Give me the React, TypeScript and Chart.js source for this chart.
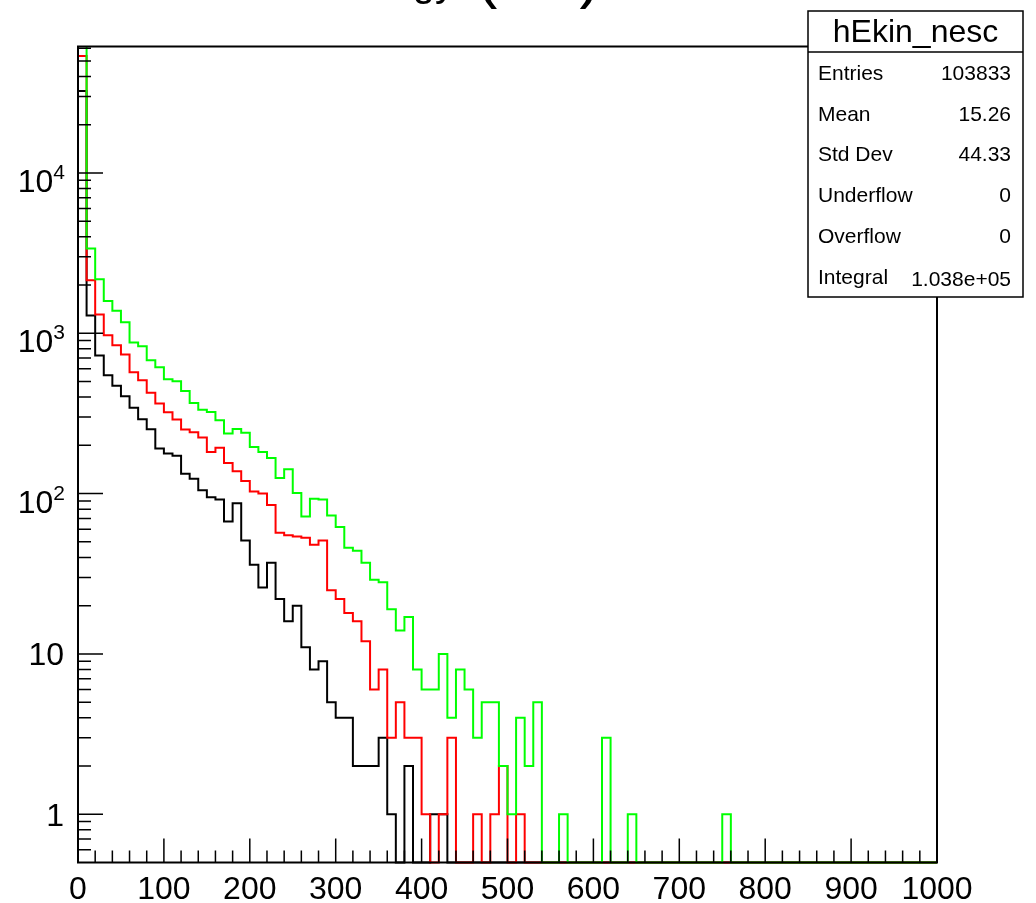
import React, { useEffect, useRef } from "react";
import { Chart, registerables } from "chart.js";

Chart.register(...registerables);

// ---------------- data ----------------
const X_MIN = 0;
const X_MAX = 1000;
const N_BINS = 100;
const Y_MIN = 0.5;
const Y_MAX = 61500;

const binEdges = Array.from({ length: N_BINS + 1 }, (_, i) => X_MIN + (i * (X_MAX - X_MIN)) / N_BINS);

const greenCounts = [
  86000, 3381, 2175, 1592, 1380, 1173, 876, 831, 680, 615,
  517, 503, 437, 368, 334, 323, 287, 237, 253, 240,
  195, 182, 167, 125, 142, 101, 72, 93, 92, 73,
  62, 46, 44, 37, 29, 28, 19, 14, 17, 8,
  6, 6, 10, 4, 8, 6, 3, 5, 5, 2,
  1, 4, 2, 5, 0, 0, 1, 0, 0, 0,
  0, 3, 0, 0, 1, 0, 0, 0, 0, 0,
  0, 0, 0, 0, 0, 1, 0, 0, 0, 0,
  0, 0, 0, 0, 0, 0, 0, 0, 0, 0,
  0, 0, 0, 0, 0, 0, 0, 0, 0, 0,
];

const redCounts = [
  53700, 2144, 1310, 973, 843, 738, 572, 510, 425, 365,
  322, 290, 251, 241, 224, 182, 193, 155, 138, 120,
  103, 100, 85, 57, 55, 54, 53, 48, 51, 25,
  22, 18, 16, 12, 6, 8, 3, 5, 3, 3,
  1, 0, 1, 3, 0, 0, 1, 0, 1, 2,
  0, 1, 0, 0, 0, 0, 0, 0, 0, 0,
  0, 0, 0, 0, 0, 0, 0, 0, 0, 0,
  0, 0, 0, 0, 0, 0, 0, 0, 0, 0,
  0, 0, 0, 0, 0, 0, 0, 0, 0, 0,
  0, 0, 0, 0, 0, 0, 0, 0, 0, 0,
];

const blackCounts = [
  32400, 1291, 727, 548, 470, 405, 343, 291, 252, 191,
  178, 172, 133, 124, 105, 95, 92, 67, 87, 51,
  36, 26, 37, 22, 16, 20, 11, 8, 9, 5,
  4, 4, 2, 2, 2, 3, 1, 0, 2, 0,
  0, 1, 1, 0, 0, 0, 0, 0, 0, 0,
  0, 0, 0, 0, 0, 0, 0, 0, 0, 0,
  0, 0, 0, 0, 0, 0, 0, 0, 0, 0,
  0, 0, 0, 0, 0, 0, 0, 0, 0, 0,
  0, 0, 0, 0, 0, 0, 0, 0, 0, 0,
  0, 0, 0, 0, 0, 0, 0, 0, 0, 0,
];

const xTickValues = [0, 100, 200, 300, 400, 500, 600, 700, 800, 900, 1000];
const xTickLabels = ["0", "100", "200", "300", "400", "500", "600", "700", "800", "900", "1000"];
const xMinorStep = 20;

const yTickValues = [1, 10, 100, 1000, 10000];
const yTickBase = ["1", "10", "10", "10", "10"];
const yTickExp = ["", "", "2", "3", "4"];

const titleMain = "Kinetic Energy";
const titleUnit = "MeV";
const statsTitle = "hEkin_nesc";
const statsLabels = ["Entries", "Mean", "Std Dev", "Underflow", "Overflow", "Integral"];
const statsValues = ["103833", "15.26", "44.33", "0", "0", "1.038e+05"];

// ---------------- helpers ----------------
const FONT = '"Liberation Sans", Arial, Helvetica, sans-serif';

function histPoints(counts: number[]) {
  const pts = counts.map((c, i) => ({ x: binEdges[i], y: c > 0 ? c : Y_MIN }));
  pts.push({ x: binEdges[N_BINS], y: pts[N_BINS - 1].y });
  return pts;
}

const rootPlugin = {
  id: "rootStyle",
  beforeDraw(chart: any) {
    const { ctx, width, height } = chart;
    ctx.save();
    ctx.fillStyle = "#fff";
    ctx.fillRect(0, 0, width, height);
    ctx.restore();
  },
  afterDatasetsDraw(chart: any) {
    const { ctx, chartArea: a, scales } = chart;
    const x = scales.x;
    const y = scales.y;
    ctx.save();
    ctx.strokeStyle = "#000";
    ctx.lineWidth = 1.5;
    ctx.beginPath();
    for (let v = X_MIN; v <= X_MAX; v += xMinorStep) {
      const px = x.getPixelForValue(v);
      const len = xTickValues.includes(v) ? 24 : 12;
      ctx.moveTo(px, a.bottom);
      ctx.lineTo(px, a.bottom - len);
    }
    for (let d = -1; d <= 4; d++) {
      for (let m = 1; m <= 9; m++) {
        const v = m * Math.pow(10, d);
        if (v < Y_MIN * 1.01 || v > Y_MAX) continue;
        const py = y.getPixelForValue(v);
        const len = m === 1 ? 25 : 13;
        ctx.moveTo(a.left, py);
        ctx.lineTo(a.left + len, py);
      }
    }
    ctx.stroke();
    ctx.lineWidth = 2;
    ctx.strokeRect(a.left, a.top, a.right - a.left, a.bottom - a.top);
    ctx.restore();
  },
  afterDraw(chart: any) {
    const { ctx, chartArea: a, scales } = chart;
    const y = scales.y;
    ctx.save();
    ctx.fillStyle = "#000";
    // y labels
    yTickValues.forEach((v, i) => {
      const py = y.getPixelForValue(v);
      const base = yTickBase[i];
      const exp = yTickExp[i];
      ctx.textBaseline = "alphabetic";
      if (exp) {
        ctx.font = `21px ${FONT}`;
        const ew = ctx.measureText(exp).width;
        ctx.textAlign = "right";
        ctx.fillText(exp, a.left - 13, py + 6);
        ctx.font = `32px ${FONT}`;
        ctx.fillText(base, a.left - 13 - ew, py + 19);
      } else {
        ctx.font = `32px ${FONT}`;
        ctx.textAlign = "right";
        ctx.fillText(base, a.left - 14, py + 11.5);
      }
    });
    // cut-off title (only the lowest part lies inside the picture)
    const tb = -4;
    ctx.textBaseline = "alphabetic";
    ctx.font = `40px ${FONT}`;
    ctx.textAlign = "right";
    ctx.fillText(titleMain, 455, tb);
    ctx.textAlign = "left";
    ctx.font = `64px ${FONT}`;
    ctx.fillText("(", 476, tb);
    const pw = ctx.measureText("(").width;
    ctx.font = `40px ${FONT}`;
    ctx.fillText(titleUnit, 476 + pw, tb);
    const uw = ctx.measureText(titleUnit).width;
    ctx.font = `64px ${FONT}`;
    ctx.fillText(")", 476 + pw + uw, tb);
    // stats box
    const bx = 808, by = 11, bw = 215, bh = 286;
    ctx.fillStyle = "#fff";
    ctx.fillRect(bx, by, bw, bh);
    ctx.strokeStyle = "#000";
    ctx.lineWidth = 1.5;
    ctx.strokeRect(bx, by, bw, bh);
    ctx.beginPath();
    ctx.moveTo(bx, 52);
    ctx.lineTo(bx + bw, 52);
    ctx.stroke();
    ctx.fillStyle = "#000";
    ctx.font = `32px ${FONT}`;
    ctx.textAlign = "center";
    ctx.fillText(statsTitle, bx + bw / 2, 42);
    ctx.font = `21px ${FONT}`;
    statsLabels.forEach((lab, i) => {
      const base = 80 + i * 40.7;
      ctx.textAlign = "left";
      ctx.fillText(lab, 818, base);
      ctx.textAlign = "right";
      ctx.fillText(statsValues[i], 1011, base + (i === 5 ? 2 : 0));
    });
    ctx.restore();
  },
};

export default function App() {
  const canvasRef = useRef<HTMLCanvasElement | null>(null);

  useEffect(() => {
    if (!canvasRef.current) return;
    const chart = new Chart(canvasRef.current, {
      type: "line",
      data: {
        datasets: [
          { label: "green", data: histPoints(greenCounts), borderColor: "#00ff00" },
          { label: "red", data: histPoints(redCounts), borderColor: "#ff0000" },
          { label: "black", data: histPoints(blackCounts), borderColor: "#000000" },
        ].map((d) => ({
          ...d,
          stepped: true,
          borderWidth: 2,
          pointRadius: 0,
          pointHoverRadius: 0,
          fill: false,
          tension: 0,
          clip: { left: 2, top: 0, right: 2, bottom: 2 },
        })) as any,
      },
      options: {
        animation: false,
        responsive: false,
        devicePixelRatio: 1,
        events: [],
        layout: { padding: { left: 0, top: 46.5, right: 99, bottom: 0 } },
        plugins: { legend: { display: false }, tooltip: { enabled: false }, title: { display: false } },
        scales: {
          x: {
            type: "linear",
            min: X_MIN,
            max: X_MAX,
            grid: { display: false, drawTicks: false },
            border: { display: false },
            afterBuildTicks: (s: any) => {
              s.ticks = xTickValues.map((v) => ({ value: v }));
            },
            afterFit: (s: any) => {
              s.height = 40.5;
            },
            ticks: {
              autoSkip: false,
              maxRotation: 0,
              minRotation: 0,
              padding: 8,
              color: "#000",
              font: { family: FONT, size: 32 },
              callback: (v: any) => xTickLabels[xTickValues.indexOf(Number(v))] ?? "",
            },
          },
          y: {
            type: "logarithmic",
            min: Y_MIN,
            max: Y_MAX,
            grid: { display: false, drawTicks: false },
            border: { display: false },
            afterFit: (s: any) => {
              s.width = 78;
            },
            ticks: { display: false },
          },
        },
      },
      plugins: [rootPlugin],
    });
    return () => chart.destroy();
  }, []);

  return (
    <div style={{ position: "fixed", left: 0, top: 0, width: 1036, height: 903, background: "#fff" }}>
      <canvas ref={canvasRef} width={1036} height={903} style={{ display: "block" }} />
    </div>
  );
}
